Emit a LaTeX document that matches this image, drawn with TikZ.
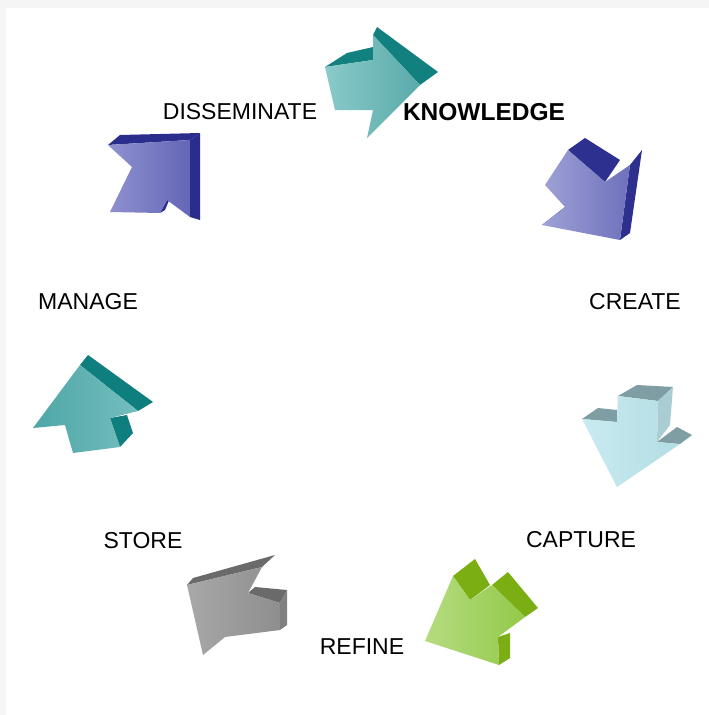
\documentclass[tikz,border=0pt]{standalone}
\usepackage{fontspec}
\setmainfont{Liberation Sans}
\begin{document}
\begin{tikzpicture}[x=1pt,y=-1pt,
  lbl/.style={font=\fontsize{23}{23}\selectfont, inner sep=0pt, anchor=center},
  lblb/.style={font=\fontsize{24.5}{24.5}\selectfont\bfseries, inner sep=0pt, anchor=center},
  edge/.style={line join=round}]
\definecolor{tealF1}{HTML}{8ACACA}\definecolor{tealF2}{HTML}{5AAAAA}\definecolor{tealD}{HTML}{138080}
\definecolor{vioF1}{HTML}{9FA1D6}\definecolor{vioF2}{HTML}{6E70BC}\definecolor{vioD}{HTML}{2D308F}
\definecolor{cyF1}{HTML}{C8EBF0}\definecolor{cyF2}{HTML}{B3DDE3}\definecolor{cyD}{HTML}{7E9EA3}\definecolor{cyS}{HTML}{A9CDD3}
\definecolor{grF1}{HTML}{B5DC80}\definecolor{grF2}{HTML}{93C94A}\definecolor{grD}{HTML}{7AAE12}
\definecolor{gyF1}{HTML}{A8A8A8}\definecolor{gyF2}{HTML}{8E8E8E}\definecolor{gyD}{HTML}{6A6A6A}
\definecolor{tlF1}{HTML}{74BEBE}\definecolor{tlF2}{HTML}{4EA6A6}\definecolor{tlD}{HTML}{0E7E7E}
\definecolor{blF1}{HTML}{8F91D0}\definecolor{blF2}{HTML}{6466B6}\definecolor{blD}{HTML}{2A2D8C}
% frame
\fill[gray!8] (0,0) rectangle (709,715);
\fill[white] (6,8) rectangle (709,715);
\useasboundingbox (0,0) rectangle (709,715);

% Arrow 1 (top, teal)
\fill[tealD] (325,67) -- (347,53) -- (373,47) -- (373,60) -- cycle;
\fill[tealD] (373,35) -- (377,27) -- (438,72) -- (420,85) -- cycle;
\shade[left color=tealF1, right color=tealF2] (373,35) -- (420,85) -- (367,138) -- (373,110) -- (335,110) -- (325,67) -- (373,60) -- cycle;

% Arrow 2 (CREATE, violet)
\fill[vioD] (568,150) -- (585,138) -- (620,160) -- (605,182) -- cycle;
\fill[vioD] (630,165) -- (642,150) -- (630,233) -- (620,240) -- cycle;
\fill[vioD] (565,207) -- (569,205) -- (545,224) -- (542,225) -- cycle;
\shade[left color=vioF1, right color=vioF2] (568,150) -- (605,182) -- (630,165) -- (620,240) -- (542,225) -- (565,207) -- (545,185) -- cycle;

% Arrow 3 (CAPTURE, light cyan)
\fill[cyD] (618,396) -- (637,385) -- (673,387) -- (658,401) -- cycle;
\fill[cyS] (658,401) -- (673,387) -- (670,425) -- (657,442) -- cycle;
\fill[cyD] (657,442) -- (677,427) -- (692,435) -- (680,444) -- cycle;
\fill[cyD] (582,419) -- (598,408) -- (617,410) -- (617,422) -- cycle;
\shade[left color=cyF1, right color=cyF2] (618,396) -- (658,401) -- (657,442) -- (680,444) -- (617,487) -- (582,419) -- (617,422) -- cycle;

% Arrow 4 (REFINE, green)
\fill[grD] (453,576) -- (475,559) -- (490,585) -- (470,600) -- cycle;
\fill[grD] (492,585) -- (508,572) -- (538,608) -- (525,617) -- cycle;
\fill[grD] (498,637) -- (510,633) -- (510,658) -- (499,665) -- cycle;
\shade[left color=grF1, right color=grF2] (453,576) -- (470,600) -- (492,585) -- (525,617) -- (498,637) -- (499,665) -- (425,641) -- cycle;

% Arrow 5 (STORE, gray)
\fill[gyD] (187,585) -- (193,578) -- (275,555) -- (262,567) -- cycle;
\fill[gyD] (248,593) -- (255,587) -- (287,590) -- (280,603) -- cycle;
\fill[gyD!85!white] (280,603) -- (287,590) -- (287,625) -- (280,630) -- cycle;
\shade[left color=gyF1, right color=gyF2] (187,585) -- (262,567) -- (248,593) -- (280,603) -- (280,630) -- (225,637) -- (203,655) -- cycle;

% Arrow 6 (MANAGE, teal)
\fill[tlD] (80,365) -- (88,355) -- (153,402) -- (138,411) -- cycle;
\fill[tlD] (110,418) -- (127,415) -- (133,433) -- (120,447) -- cycle;
\shade[left color=tlF2, right color=tlF1] (33,428) -- (80,365) -- (138,411) -- (110,418) -- (120,447) -- (73,453) -- (65,425) -- cycle;

% Arrow 7 (DISSEMINATE, blue)
\fill[blD] (108,145) -- (120,135) -- (200,133) -- (190,140) -- cycle;
\fill[blD] (190,140) -- (200,133) -- (200,220) -- (190,217) -- cycle;
\fill[blD] (167,200) -- (170,198) -- (165,210) -- (160,213) -- cycle;
\shade[left color=blF1, right color=blF2] (108,145) -- (190,140) -- (190,217) -- (167,200) -- (160,213) -- (110,212) -- (132,167) -- cycle;

% labels
\node[lbl] (dis) at (240,112) {DISSEMINATE};
\node[lblb] (kno) at (484,112) {KNOWLEDGE};
\node[lbl] (cre) at (635,302) {CREATE};
\node[lbl] (man) at (88,302) {MANAGE};
\node[lbl] (cap) at (581,540) {CAPTURE};
\node[lbl] (sto) at (143,541) {STORE};
\node[lbl] (ref) at (362,647) {REFINE};
\end{tikzpicture}
\end{document}
